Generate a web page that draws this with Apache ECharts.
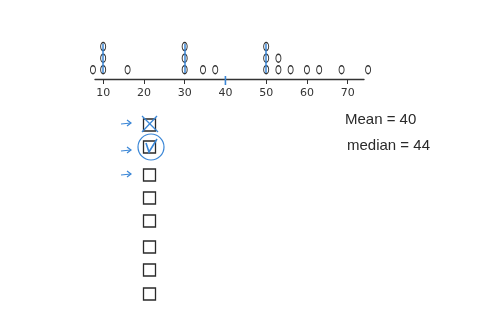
<!DOCTYPE html>
<html>
<head>
<meta charset="utf-8">
<script src="https://cdn.jsdelivr.net/npm/echarts@6/dist/echarts.min.js"></script>
<style>
html,body{margin:0;padding:0;background:#fff;}
#chart{width:480px;height:334px;}
</style>
</head>
<body>
<div id="chart"></div>
<script>
// ---- data ----
var dotValues = [7.5, 10, 16, 30, 34.5, 37.5, 50, 53, 56, 60, 63, 68.5, 75];
var dotCounts = [1, 3, 1, 3, 1, 1, 3, 2, 1, 1, 1, 1, 1];
var tickValues = [10, 20, 30, 40, 50, 60, 70];
var highlightedStacks = [10, 30, 50];
var markedValue = [40];
var statLabels = ['Mean = 40', 'median = 44'];

// ---- build ----
var BLUE = '#3a86d6';
var INK = '#2a2a2a';
var points = [];
dotValues.forEach(function (v, i) {
  for (var k = 1; k <= dotCounts[i]; k++) points.push([v, k]);
});

var stackLines = highlightedStacks.map(function (v) {
  return [{coord: [v, 0.72]}, {coord: [v, 3.25]}];
});

var graphics = [];
var boxYs = [125, 147, 175, 198, 221, 247, 270, 294];
boxYs.forEach(function (y) {
  graphics.push({type: 'rect', shape: {x: 143.5, y: y - 6, width: 12, height: 12},
    style: {fill: 'none', stroke: INK, lineWidth: 1.3}});
});
// X on first box
graphics.push({type: 'line', shape: {x1: 142, y1: 116, x2: 158, y2: 132}, style: {stroke: BLUE, lineWidth: 1.3}});
graphics.push({type: 'line', shape: {x1: 157, y1: 116, x2: 142, y2: 132}, style: {stroke: BLUE, lineWidth: 1.3}});
// check + circle on second
graphics.push({type: 'polyline', shape: {points: [[146, 143], [149, 152], [157, 139]]}, style: {stroke: BLUE, lineWidth: 1.6, fill: 'none'}});
graphics.push({type: 'circle', shape: {cx: 151, cy: 147, r: 13}, style: {stroke: BLUE, lineWidth: 1.2, fill: 'none'}});
// arrows
[123, 150, 174].forEach(function (y) {
  graphics.push({type: 'polyline', shape: {points: [[121, y + 1], [131, y]]}, style: {stroke: BLUE, lineWidth: 1.2, fill: 'none'}});
  graphics.push({type: 'polyline', shape: {points: [[127, y - 3], [131, y], [127, y + 3]]}, style: {stroke: BLUE, lineWidth: 1.2, fill: 'none'}});
});
// stats text
graphics.push({type: 'text', x: 345, y: 112, style: {text: statLabels[0], fill: INK, font: '15px "Liberation Sans"'}});
graphics.push({type: 'text', x: 347, y: 138, style: {text: statLabels[1], fill: INK, font: '15px "Liberation Sans"'}});

var chart = echarts.init(document.getElementById('chart'), null, {renderer: 'canvas'});
chart.setOption({
  animation: false,
  backgroundColor: '#fff',
  grid: {left: 95, right: 116, top: 35, bottom: 255},
  xAxis: {
    type: 'value', min: 8, max: 74,
    splitLine: {show: false},
    axisLine: {show: true, lineStyle: {color: '#333', width: 1.4}},
    axisTick: {show: true, length: 5, inside: false, lineStyle: {color: '#333', width: 1}, customValues: tickValues},
    axisLabel: {show: true, customValues: tickValues, color: '#333', fontSize: 11, margin: 9, fontFamily: 'DejaVu Sans'}
  },
  yAxis: {type: 'value', min: 0.2, max: 4, show: false},
  graphic: graphics,
  series: [{
    type: 'scatter',
    clip: false,
    z: 3,
    data: points,
    symbol: 'circle',
    symbolSize: [5, 8],
    itemStyle: {color: 'rgba(255,255,255,0)', borderColor: '#333', borderWidth: 1.2, opacity: 1},
    markLine: {
      silent: true, symbol: 'none', label: {show: false},
      lineStyle: {color: BLUE, width: 1.5, type: 'solid'},
      data: stackLines
    }
  }, {
    type: 'custom',
    clip: false,
    data: markedValue.map(function (v) { return [v, 0.2]; }),
    renderItem: function (params, api) {
      var p = api.coord([api.value(0), api.value(1)]);
      return {type: 'line', shape: {x1: p[0], y1: p[1] - 3, x2: p[0], y2: p[1] + 6},
        style: {stroke: BLUE, lineWidth: 1.6}};
    }
  }]
});
</script>
</body>
</html>
